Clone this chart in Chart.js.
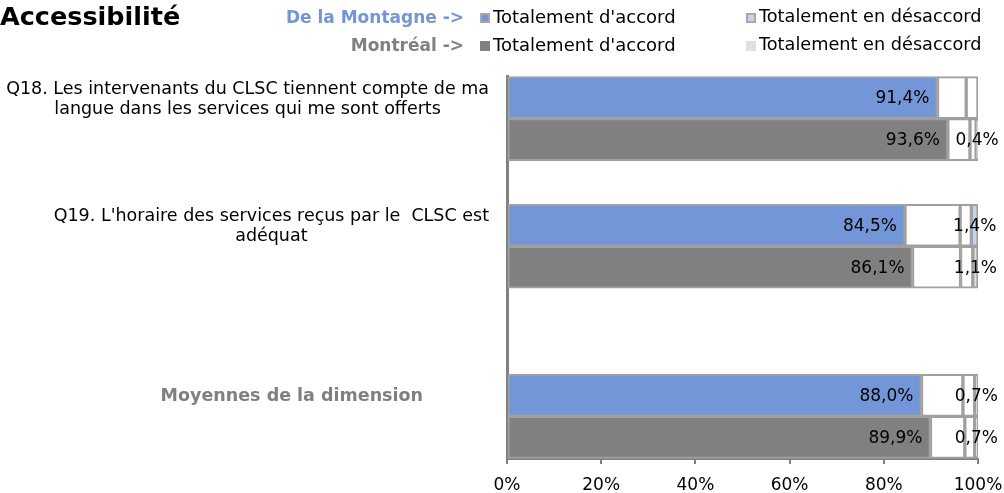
<!DOCTYPE html>
<html>
<head>
<meta charset="utf-8">
<script src="https://cdn.jsdelivr.net/npm/chart.js@4"></script>
<style>
  html, body { margin: 0; padding: 0; background: #fff; }
  #wrap { position: relative; width: 1004px; height: 493px; font-family: 'DejaVu Sans', Verdana, sans-serif; overflow: hidden; }
  #c { position: absolute; left: 0; top: 0; }
  .t { position: absolute; white-space: nowrap; line-height: 1; }
  .mk { position: absolute; width: 10px; height: 10px; box-sizing: border-box; }
</style>
</head>
<body>
<div id="wrap">
  <canvas id="c" width="1004" height="493"></canvas>
  <div class="t" style="left:0;top:4px;font-size:25.5px;font-weight:bold;color:#000;">Accessibilité</div>
  <div class="t" style="right:540px;top:9px;font-size:17px;font-weight:bold;color:#7396D8;">De la Montagne -&gt;</div>
  <div class="t" style="right:540px;top:37px;font-size:17px;font-weight:bold;color:#808080;">Montréal -&gt;</div>
  <div class="mk" style="left:480px;top:13px;border:2px solid #A8A8A8;background:#7396D8;"></div>
  <div class="t" style="left:493px;top:8px;font-size:18px;color:#000;">Totalement d'accord</div>
  <div class="mk" style="left:746px;top:13px;border:2px solid #A8A8A8;background:#C5D3F2;"></div>
  <div class="t" style="left:759px;top:8px;font-size:17.7px;color:#000;">Totalement en désaccord</div>
  <div class="mk" style="left:480px;top:41px;background:#808080;"></div>
  <div class="t" style="left:493px;top:36px;font-size:18px;color:#000;">Totalement d'accord</div>
  <div class="mk" style="left:746px;top:41px;background:#E0E0E0;"></div>
  <div class="t" style="left:759px;top:36px;font-size:17.7px;color:#000;">Totalement en désaccord</div>
</div>
<script>
// Categories (blank entries are the empty rows of the original sheet)
const categories = [
  '',
  "Q18. Les intervenants du CLSC tiennent compte de ma\nlangue dans les services qui me sont offerts",
  '', '',
  "Q19. L'horaire des services reçus par le  CLSC est\nadéquat",
  '', '', '',
  'Moyennes de la dimension',
  ''
];
// De la Montagne
const montagneTotAccord     = [null, 91.4, null, null, 84.5, null, null, null, 88.0, null];
const montagnePlutotAccord  = [null,  6.1, null, null, 11.7, null, null, null,  8.8, null];
const montagnePlutotDesacc  = [null,  2.5, null, null,  2.4, null, null, null,  2.5, null];
const montagneTotDesaccord  = [null,  0.0, null, null,  1.4, null, null, null,  0.7, null];
// Montréal
const montrealTotAccord     = [null, 93.6, null, null, 86.1, null, null, null, 89.9, null];
const montrealPlutotAccord  = [null,  4.7, null, null, 10.2, null, null, null,  7.3, null];
const montrealPlutotDesacc  = [null,  1.3, null, null,  2.6, null, null, null,  2.1, null];
const montrealTotDesaccord  = [null,  0.4, null, null,  1.1, null, null, null,  0.7, null];
const xTicks = [0, 20, 40, 60, 80, 100];

const BORDER = '#A0A0A0';
const FONT = "'DejaVu Sans', Verdana, sans-serif";
const fmt = v => v.toFixed(1).replace('.', ',') + '%';

function ds(label, data, color, stack, labelMode) {
  return {
    label, data, stack, labelMode,
    backgroundColor: color,
    borderColor: BORDER,
    borderWidth: 2,
    borderSkipped: false,
    barThickness: 42
  };
}

const dataLabels = {
  id: 'dataLabels',
  afterDatasetsDraw(chart) {
    const ctx = chart.ctx;
    ctx.save();
    ctx.font = '17px ' + FONT;
    ctx.fillStyle = '#000';
    ctx.textBaseline = 'middle';
    chart.data.datasets.forEach((d, di) => {
      if (!d.labelMode) return;
      const meta = chart.getDatasetMeta(di);
      meta.data.forEach((bar, i) => {
        const v = d.data[i];
        if (v == null || v === 0) return;
        if (d.labelMode === 'end') {
          ctx.textAlign = 'right';
          ctx.fillText(fmt(v), bar.x - 8, bar.y + 1);
        } else {
          ctx.textAlign = 'center';
          ctx.fillText(fmt(v), (bar.x + bar.base) / 2, bar.y + 1);
        }
      });
    });
    ctx.restore();
  }
};

const axisLabels = {
  id: 'axisLabels',
  afterDraw(chart) {
    const ctx = chart.ctx;
    const xs = chart.scales.x;
    ctx.save();
    ctx.font = '17px ' + FONT;
    ctx.fillStyle = '#000';
    ctx.textAlign = 'center';
    ctx.textBaseline = 'middle';
    xTicks.forEach(v => ctx.fillText(v + '%', xs.getPixelForValue(v), chart.chartArea.bottom + 27));
    ctx.restore();
  }
};

const catLabels = {
  id: 'catLabels',
  afterDraw(chart) {
    const ctx = chart.ctx;
    const meta = chart.getDatasetMeta(0);
    const left = chart.chartArea.left;
    ctx.save();
    ctx.textBaseline = 'middle';
    ctx.textAlign = 'center';
    categories.forEach((cat, i) => {
      if (!cat) return;
      const bar = meta.data[i];
      const summary = i === categories.length - 2;
      ctx.font = (summary ? 'bold ' : '') + '17.5px ' + FONT;
      ctx.fillStyle = summary ? '#808080' : '#000';
      const lines = cat.split('\n');
      const widest = Math.max(...lines.map(l => ctx.measureText(l).width));
      const right = summary ? left - 84 : left - 18;
      const cx = right - widest / 2;
      const lh = 20;
      const y0 = bar.y + 1.5 - (lines.length - 1) * lh / 2;
      lines.forEach((l, k) => ctx.fillText(l, cx, y0 + k * lh));
    });
    ctx.restore();
  }
};

new Chart(document.getElementById('c'), {
  type: 'bar',
  data: {
    labels: categories,
    datasets: [
      ds("Totalement d'accord", montagneTotAccord, '#7396D8', 'M', 'end'),
      ds("Plutôt d'accord", montagnePlutotAccord, '#FFFFFF', 'M'),
      ds('Plutôt en désaccord', montagnePlutotDesacc, '#FFFFFF', 'M'),
      ds('Totalement en désaccord', montagneTotDesaccord, '#C5D3F2', 'M', 'center'),
      ds("Totalement d'accord", montrealTotAccord, '#808080', 'R', 'end'),
      ds("Plutôt d'accord", montrealPlutotAccord, '#FFFFFF', 'R'),
      ds('Plutôt en désaccord', montrealPlutotDesacc, '#FFFFFF', 'R'),
      ds('Totalement en désaccord', montrealTotDesaccord, '#E0E0E0', 'R', 'center')
    ]
  },
  options: {
    indexAxis: 'y',
    responsive: false,
    animation: false,
    layout: { padding: { left: 499, right: 26, top: 76, bottom: 0 } },
    plugins: { legend: { display: false }, tooltip: { enabled: false } },
    scales: {
      x: {
        type: 'linear',
        min: 0, max: 100,
        stacked: true,
        afterBuildTicks: axis => { axis.ticks = xTicks.map(v => ({ value: v })); },
        afterFit: s => { s.paddingLeft = 0; s.paddingRight = 0; s.height = 34; },
        ticks: { display: false },
        grid: { drawOnChartArea: false, drawTicks: true, tickLength: 5, color: '#808080', lineWidth: 2 },
        border: { display: true, color: '#808080', width: 2 }
      },
      y: {
        type: 'category',
        stacked: true,
        offset: false,
        ticks: { display: false },
        grid: { display: false },
        border: { display: true, color: '#808080', width: 3 }
      }
    }
  },
  plugins: [dataLabels, axisLabels, catLabels]
});
</script>
</body>
</html>
